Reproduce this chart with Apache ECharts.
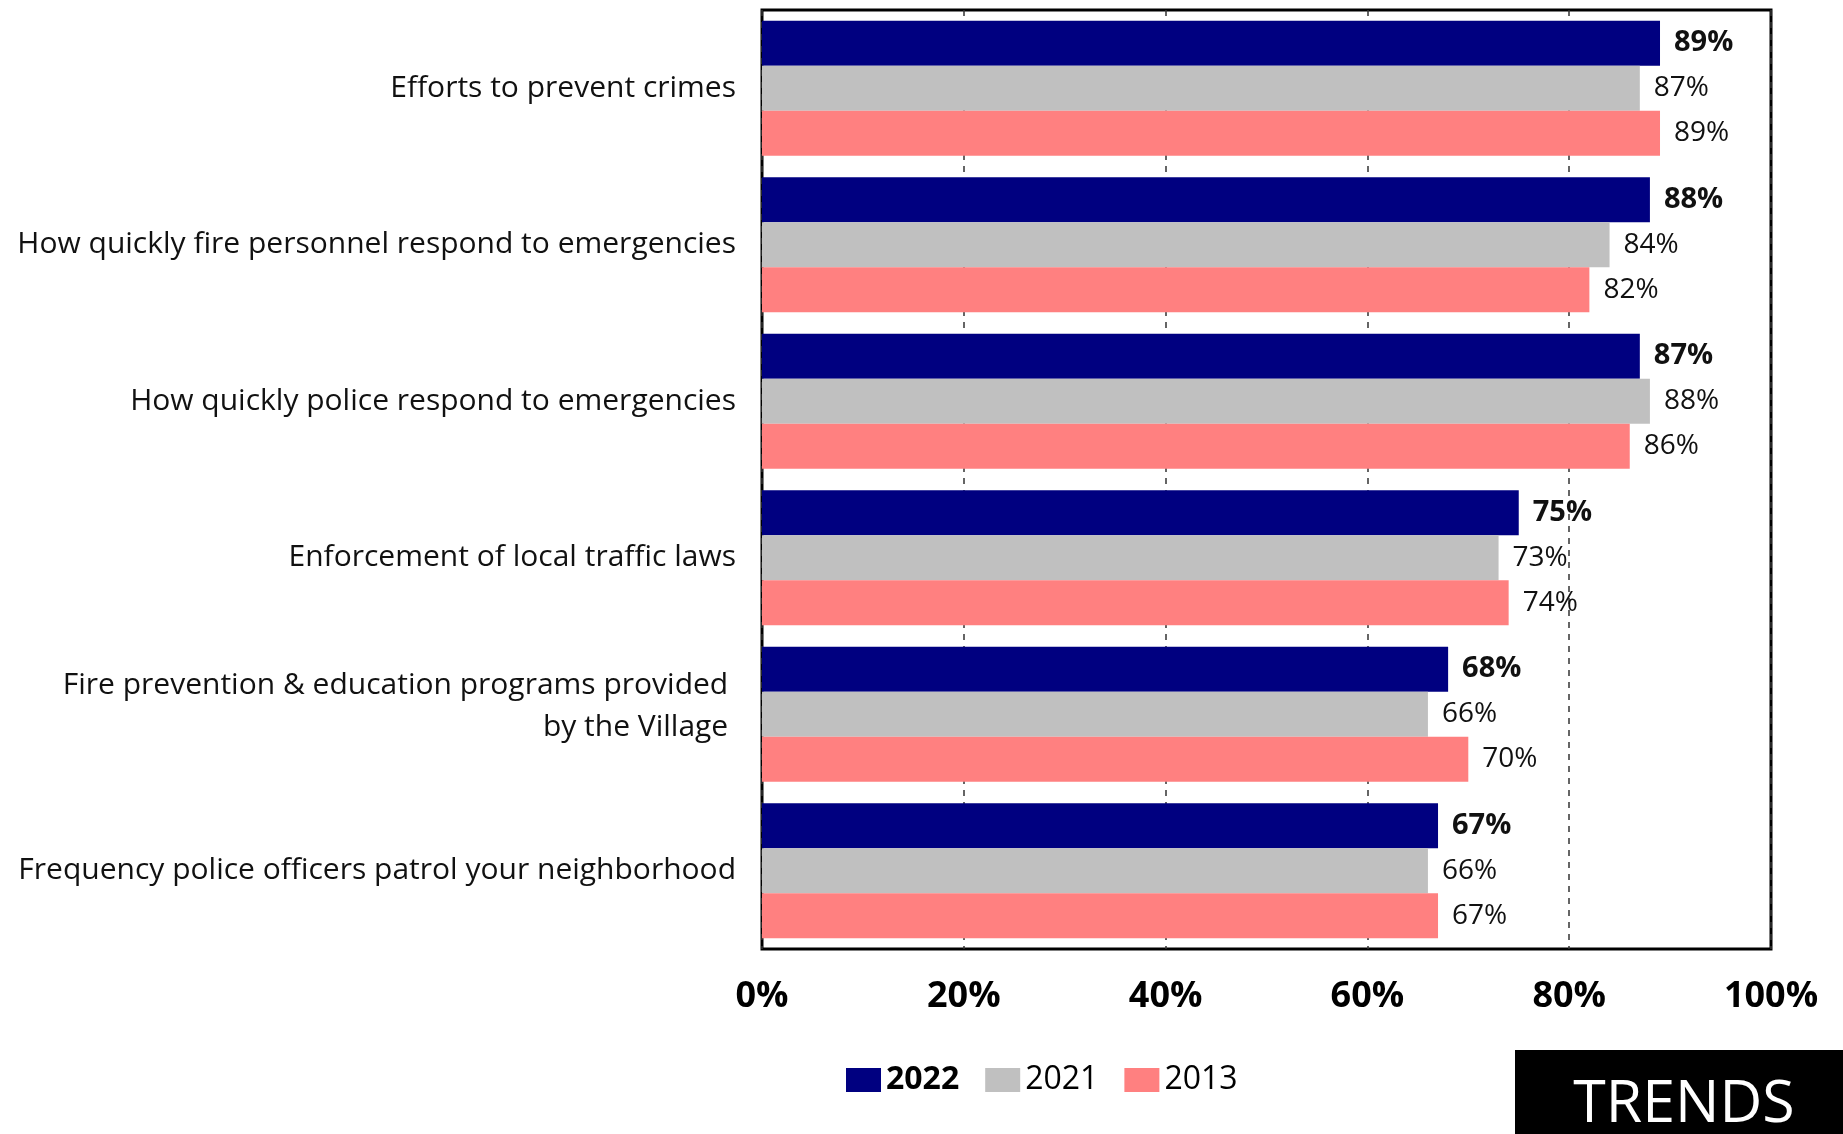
<!DOCTYPE html>
<html>
<head>
<meta charset="utf-8">
<script src="https://cdn.jsdelivr.net/npm/echarts@6/dist/echarts.min.js"></script>
<style>
  html, body { margin: 0; padding: 0; background: #fff; }
  #chart { width: 1843px; height: 1134px; }
</style>
</head>
<body>
<div id="chart"></div>
<script>
// Survey items, top to bottom
const categories = [
  'Efforts to prevent crimes',
  'How quickly fire personnel respond to emergencies',
  'How quickly police respond to emergencies',
  'Enforcement of local traffic laws',
  'Fire prevention & education programs provided \nby the Village ',
  'Frequency police officers patrol your neighborhood'
];

// Percent rating each item positively, by survey year
const values2022 = [89, 88, 87, 75, 68, 67];
const values2021 = [87, 84, 88, 73, 66, 66];
const values2013 = [89, 82, 86, 74, 70, 67];

const years = ['2022', '2021', '2013'];
const xTicks = [0, 20, 40, 60, 80, 100];

const FONT = '"Open Sans", "Noto Sans", sans-serif';

const chart = echarts.init(document.getElementById('chart'), null, { renderer: 'canvas' });

function barSeries(name, data, color, bold) {
  return {
    name: name,
    type: 'bar',
    data: data,
    barGap: '0%',
    barCategoryGap: '13.7%',
    itemStyle: { color: color },
    label: {
      show: true,
      position: 'right',
      distance: 14,
      formatter: p => p.value + '%',
      color: '#111',
      fontFamily: FONT,
      fontSize: bold ? 29 : 28,
      fontWeight: bold ? 'bold' : 'normal'
    },
    emphasis: { disabled: true }
  };
}

// Wrapped labels use a padded style so the two lines sit slightly above the band centre
function categoryLabel(value) {
  const lines = value.split('\n');
  if (lines.length === 1) return '{s|' + value + '}';
  return lines.map(l => '{m|' + l + '}').join('\n');
}

chart.setOption({
  animation: false,
  grid: {
    left: 762, right: 72, top: 10, bottom: 185,
    show: true, borderColor: '#000', borderWidth: 3,
    containLabel: false
  },
  xAxis: {
    type: 'value',
    min: xTicks[0],
    max: xTicks[xTicks.length - 1],
    interval: 20,
    axisLine: { show: false },
    axisTick: { show: false },
    splitLine: { show: true, lineStyle: { color: '#333', width: 1.5, type: [6, 6] } },
    axisLabel: {
      margin: 30,
      formatter: v => v + '%',
      color: '#000',
      fontFamily: FONT,
      fontSize: 36,
      fontWeight: 'bold'
    }
  },
  yAxis: {
    type: 'category',
    data: categories,
    inverse: true,
    axisLine: { show: false },
    axisTick: { show: false },
    splitLine: { show: false },
    axisLabel: {
      margin: 26,
      align: 'right',
      formatter: categoryLabel,
      rich: {
        s: { fontFamily: FONT, fontSize: 30, lineHeight: 42, color: '#111' },
        m: { fontFamily: FONT, fontSize: 30, lineHeight: 42, color: '#111', padding: [0, 0, 16, 0] }
      }
    }
  },
  legend: {
    left: 841,
    top: 1059,
    icon: 'rect',
    itemWidth: 35,
    itemHeight: 24,
    itemGap: 26,
    data: years,
    formatter: name => name === '2022' ? '{b|' + name + '}' : '{n|' + name + '}',
    textStyle: {
      rich: {
        b: { fontFamily: FONT, fontSize: 32, fontWeight: 'bold', color: '#000' },
        n: { fontFamily: FONT, fontSize: 32, color: '#000' }
      }
    }
  },
  graphic: [
    {
      type: 'group',
      left: 1515,
      top: 1050,
      children: [
        { type: 'rect', shape: { x: 0, y: 0, width: 328, height: 84 }, style: { fill: '#000' } },
        {
          type: 'text',
          x: 169, y: 55,
          style: {
            text: 'TRENDS',
            fill: '#fff',
            font: '59px "Open Sans", sans-serif',
            textAlign: 'center',
            textVerticalAlign: 'middle'
          }
        }
      ]
    }
  ],
  series: [
    barSeries('2022', values2022, '#000080', true),
    barSeries('2021', values2021, '#C0C0C0', false),
    barSeries('2013', values2013, '#FF8080', false)
  ]
});
</script>
</body>
</html>
